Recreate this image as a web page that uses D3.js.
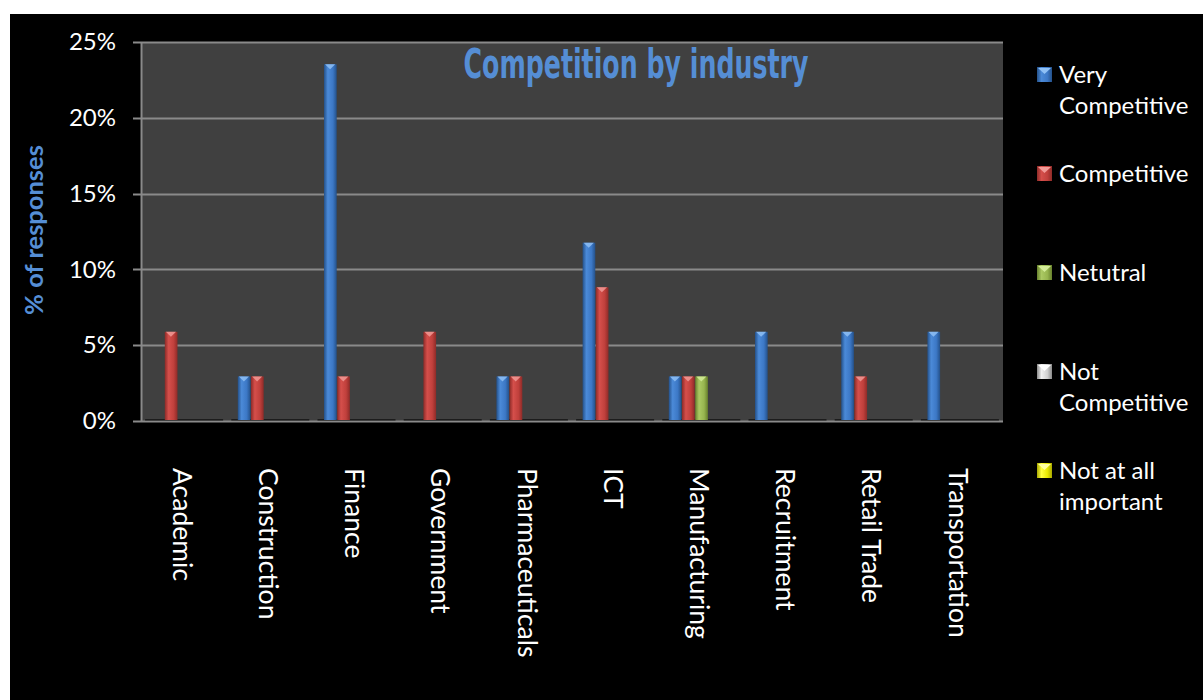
<!DOCTYPE html>
<html>
<head>
<meta charset="utf-8">
<script src="https://cdn.jsdelivr.net/npm/d3@7"></script>
<style>
  html, body { margin: 0; padding: 0; background: #ffffff; }
  svg { display: block; }
</style>
</head>
<body>
<script>
/* data */
const industries = ['Academic', 'Construction', 'Finance', 'Government', 'Pharmaceuticals',
  'ICT', 'Manufacturing', 'Recruitment', 'Retail Trade', 'Transportation'];
const seriesNames = ['Very Competitive', 'Competitive', 'Netutral', 'Not Competitive', 'Not at all important'];
const veryCompetitive = [0, 0.0294, 0.2353, 0, 0.0294, 0.1176, 0.0294, 0.0588, 0.0588, 0.0588];
const competitive     = [0.0588, 0.0294, 0.0294, 0.0588, 0.0294, 0.0882, 0.0294, 0, 0.0294, 0];
const neutral         = [0, 0, 0, 0, 0, 0, 0.0294, 0, 0, 0];
const notCompetitive  = [0, 0, 0, 0, 0, 0, 0, 0, 0, 0];
const notImportant    = [0, 0, 0, 0, 0, 0, 0, 0, 0, 0];
const yTicks = [0, 0.05, 0.10, 0.15, 0.20, 0.25];

const seriesValues = [veryCompetitive, competitive, neutral, notCompetitive, notImportant];

// colours per series: dark edge, light centre, mid, top bevel
const palette = [
  { dark: '#24518a', light: '#4b8ad8', mid: '#3c78c6', top: '#8fc0f5' },
  { dark: '#8e2b28', light: '#d54f4b', mid: '#c0403c', top: '#f19a97' },
  { dark: '#67802c', light: '#abc963', mid: '#97b54f', top: '#d3ec98' },
  { dark: '#8a8a8a', light: '#f0f0f0', mid: '#d0d0d0', top: '#ffffff' },
  { dark: '#a8a800', light: '#ffff40', mid: '#e8e800', top: '#ffffa0' }
];

const W = 1203, H = 700;
const plot = { left: 141, right: 1003, top: 42, bottom: 421 };

const svg = d3.select('body').append('svg')
  .attr('width', W)
  .attr('height', H);

/* gradients */
const defs = svg.append('defs');
palette.forEach((c, i) => {
  const g = defs.append('linearGradient')
    .attr('id', 'grad' + i)
    .attr('x1', '0%').attr('x2', '100%').attr('y1', '0%').attr('y2', '0%');
  g.append('stop').attr('offset', '0%').attr('stop-color', c.dark);
  g.append('stop').attr('offset', '30%').attr('stop-color', c.light);
  g.append('stop').attr('offset', '70%').attr('stop-color', c.mid);
  g.append('stop').attr('offset', '100%').attr('stop-color', c.dark);
});

// white top / left strip, then black chart area
svg.append('rect').attr('x', 10).attr('y', 14).attr('width', W - 10).attr('height', H - 14)
  .attr('fill', '#000');

/* scales */
const x0 = d3.scaleBand().domain(industries).range([plot.left, plot.right]);
const x1 = d3.scaleBand().domain(d3.range(seriesNames.length))
  .range([(x0.bandwidth() - 66) / 2, (x0.bandwidth() + 66) / 2]);
const y = d3.scaleLinear().domain([0, 0.25]).range([plot.bottom, plot.top]);

/* plot background */
svg.append('rect')
  .attr('x', plot.left).attr('y', plot.top)
  .attr('width', plot.right - plot.left).attr('height', plot.bottom - plot.top)
  .attr('fill', '#404040');

/* grid lines */
svg.append('g').selectAll('line')
  .data(yTicks)
  .enter().append('line')
  .attr('x1', plot.left - 8).attr('x2', plot.right)
  .attr('y1', d => Math.round(y(d)) + 0.5).attr('y2', d => Math.round(y(d)) + 0.5)
  .attr('stroke', '#8a8a8a')
  .attr('stroke-width', 2);

/* y axis */
const yAxis = d3.axisLeft(y)
  .tickValues(yTicks)
  .tickFormat(d3.format('.0%'))
  .tickSize(0)
  .tickPadding(25);

const yg = svg.append('g')
  .attr('transform', `translate(${plot.left},0)`)
  .call(yAxis);
yg.select('.domain').attr('stroke', '#8a8a8a').attr('stroke-width', 2);
yg.selectAll('text')
  .attr('fill', '#ffffff')
  .style('font-family', 'Lato, "Open Sans", sans-serif')
  .style('font-size', '24px');

/* bars */
const groups = svg.append('g').selectAll('g')
  .data(industries)
  .enter().append('g')
  .attr('transform', d => `translate(${x0(d)},0)`);

// floor shadow under each group
groups.append('rect')
  .attr('x', x1(0) - 6)
  .attr('y', plot.bottom - 2)
  .attr('width', x1.bandwidth() * 5 + 12)
  .attr('height', 1.5)
  .attr('fill', '#1c1c1c');

const bars = groups.selectAll('g.bar')
  .data((d, i) => seriesValues.map((vals, s) => ({ s: s, v: vals[i] })).filter(o => o.v > 0))
  .enter().append('g')
  .attr('class', 'bar');

bars.append('rect')
  .attr('x', d => x1(d.s) + 0.5)
  .attr('y', d => y(d.v))
  .attr('width', x1.bandwidth() - 0.5)
  .attr('height', d => plot.bottom - 1 - y(d.v))
  .attr('fill', d => `url(#grad${d.s})`);

bars.append('path')
  .attr('d', d => {
    const xl = x1(d.s) + 1.5, xr = x1(d.s) + x1.bandwidth() - 1.5, yt = y(d.v);
    return `M${xl},${yt}L${xr},${yt}L${(xl + xr) / 2},${yt + 5}Z`;
  })
  .attr('fill', d => palette[d.s].top)
  .attr('opacity', 0.85);

/* x labels */
svg.append('g').selectAll('text')
  .data(industries)
  .enter().append('text')
  .attr('transform', d => `translate(${x0(d) + x0.bandwidth() / 2 - 2},468) rotate(90)`)
  .attr('dy', '0.35em')
  .attr('fill', '#ffffff')
  .style('font-family', 'Lato, "Open Sans", sans-serif')
  .style('font-size', '26.5px')
  .text(d => d);

/* title */
svg.append('text')
  .attr('x', 636)
  .attr('y', 78)
  .attr('text-anchor', 'middle')
  .attr('fill', '#558ed5')
  .attr('textLength', 345)
  .attr('lengthAdjust', 'spacingAndGlyphs')
  .style('font-family', '"Liberation Sans Narrow", "DejaVu Sans Condensed", sans-serif')
  .style('font-weight', 'bold')
  .style('font-size', '40px')
  .text('Competition by industry');

/* y axis title */
svg.append('text')
  .attr('transform', 'translate(43,230) rotate(-90)')
  .attr('text-anchor', 'middle')
  .attr('fill', '#558ed5')
  .style('font-family', 'Lato, "Open Sans", sans-serif')
  .style('font-weight', 'bold')
  .style('font-size', '25.5px')
  .text('% of responses');

/* legend */
const legendLines = [['Very', 'Competitive'], ['Competitive'], ['Netutral'], ['Not', 'Competitive'], ['Not at all', 'important']];
const legend = svg.append('g').selectAll('g')
  .data(seriesNames)
  .enter().append('g')
  .attr('transform', (d, i) => `translate(1037,${74 + i * 99})`);

legend.append('rect')
  .attr('x', 0).attr('y', -7)
  .attr('width', 15).attr('height', 15)
  .attr('fill', (d, i) => `url(#grad${i})`);
legend.append('path')
  .attr('d', 'M1,-6L14,-6L7.5,0Z')
  .attr('fill', (d, i) => palette[i].top);

legend.append('text')
  .attr('x', 22)
  .attr('y', 9)
  .attr('fill', '#ffffff')
  .style('font-family', 'Lato, "Open Sans", sans-serif')
  .style('font-size', '24px')
  .selectAll('tspan')
  .data((d, i) => legendLines[i])
  .enter().append('tspan')
  .attr('x', 22)
  .attr('dy', (d, j) => j === 0 ? 0 : 31)
  .text(d => d);
</script>
</body>
</html>
